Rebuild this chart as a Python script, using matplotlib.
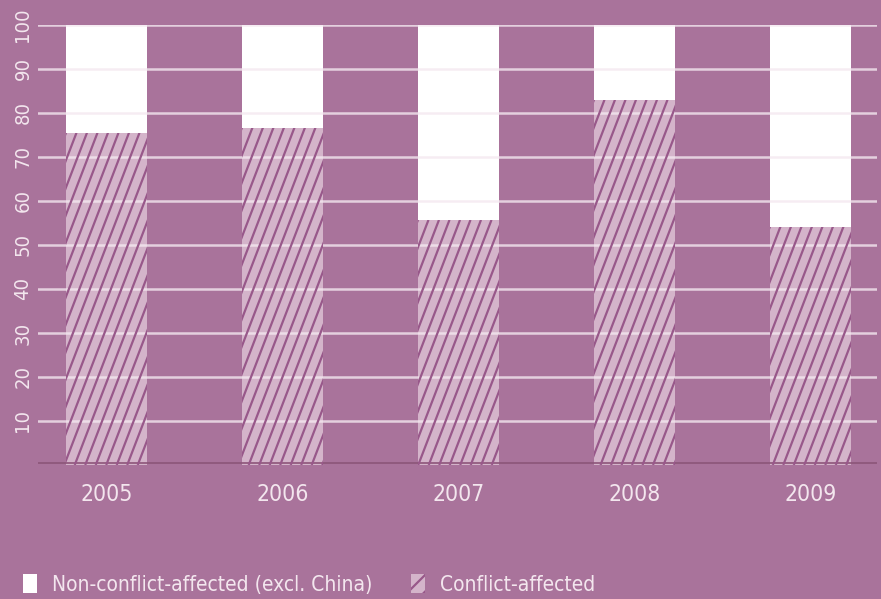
import numpy as np
import matplotlib.pyplot as plt
from matplotlib.collections import LineCollection
from matplotlib.patches import Patch
from matplotlib.transforms import IdentityTransform

years = ["2005", "2006", "2007", "2008", "2009"]
conflict = [75.5, 76.7, 55.7, 83.0, 54.2]
non_conflict = [100 - v for v in conflict]
yticks = [10, 20, 30, 40, 50, 60, 70, 80, 90, 100]

bg = "#a9739b"
hatch_face = "#d4b4ca"
hatch_line = "#98588a"
text_col = "#f3e6ee"

plt.rcParams["font.family"] = ["DejaVu Sans"]
plt.rcParams["font.stretch"] = "condensed"
plt.rcParams["hatch.linewidth"] = 1.6
plt.rcParams["hatch.color"] = hatch_line

fig = plt.figure(figsize=(8.81, 5.99), dpi=100, facecolor=bg)
ax = fig.add_axes([38 / 881, 134 / 599, 839 / 881, 440 / 599], facecolor=bg)

x = np.arange(len(years))
w = 0.46
b1 = ax.bar(x, conflict, w, color=hatch_face, linewidth=0, zorder=2)
b2 = ax.bar(x, non_conflict, w, bottom=conflict, color="white", linewidth=0, zorder=2)

ax.set_xlim(-0.389, 4.378)
ax.set_ylim(0, 100)

# steep diagonal hatching (~69 deg), drawn in pixel space and clipped to each bar
step, slope = 10.5, 2.6
for p in b1.patches:
    (x0, y0), (x1, y1) = ax.transData.transform([(p.get_x(), p.get_y()),
                                                 (p.get_x() + p.get_width(), p.get_y() + p.get_height())])
    run = (y1 - y0) / slope
    segs = [[(s, y0), (s + run, y1)] for s in np.arange(x0 - run, x1 + step, step)]
    lc = LineCollection(segs, colors=hatch_line, linewidths=1.6, transform=IdentityTransform(), zorder=2.5)
    lc.set_clip_path(p)
    fig.add_artist(lc)

# gridlines over the bars
for t in yticks:
    ax.axhline(t, color="#f4e8f0", lw=1.8, alpha=0.8, zorder=3)
ax.axhline(0.4, color="#8c5579", lw=1.2, zorder=4)

ax.set_yticks(yticks)
ax.set_yticklabels([str(t) for t in yticks], rotation=90, va="center",
                   color=text_col, fontsize=14.5)
ax.set_xticks(x)
ax.set_xticklabels(years, color=text_col, fontsize=16.5)
ax.tick_params(axis="both", length=0)
ax.tick_params(axis="y", pad=4)
ax.tick_params(axis="x", pad=13)
for s in ax.spines.values():
    s.set_visible(False)

h_white = Patch(facecolor="white", linewidth=0)
h_hatch = Patch(facecolor=hatch_face, hatch="//", linewidth=0)
fig.legend([h_white, h_hatch], ["Non-conflict-affected (excl. China)", "Conflict-affected"],
           loc="lower left", bbox_to_anchor=(0.005, -0.024), ncol=2, frameon=False,
           fontsize=15, labelcolor=text_col, handlelength=0.68, handleheight=0.98,
           handletextpad=0.7, columnspacing=1.85)

fig.savefig("out.png", dpi=100, facecolor=bg)
